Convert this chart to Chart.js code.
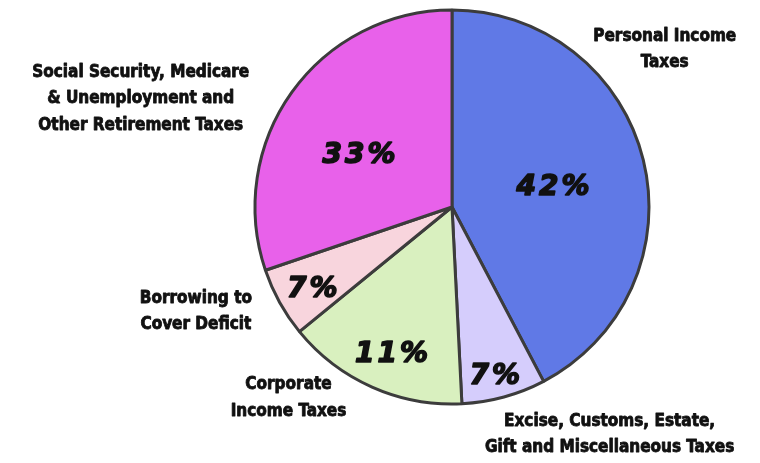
<!DOCTYPE html>
<html>
<head>
<meta charset="utf-8">
<script src="https://cdn.jsdelivr.net/npm/chart.js@4"></script>
<style>
  html, body { margin: 0; padding: 0; background: #ffffff; }
  #wrap { width: 760px; height: 463px; position: relative; }
</style>
</head>
<body>
<div id="wrap"><canvas id="c" width="760" height="463"></canvas></div>
<script>
// Categories (clockwise from 12 o'clock)
const categories = [
  "Personal Income Taxes",
  "Excise, Customs, Estate, Gift and Miscellaneous Taxes",
  "Corporate Income Taxes",
  "Borrowing to Cover Deficit",
  "Social Security, Medicare & Unemployment and Other Retirement Taxes"
];
// Slice sizes as drawn in the picture (share of the circle, %)
const sliceValues = [42.3, 6.9, 14.9, 5.7, 30.2];
// Percent labels printed on the slices
const percentLabels = ["42%", "7%", "11%", "7%", "33%"];
// Outer caption lines
const captionLines = [
  ["Personal Income", "Taxes"],
  ["Excise, Customs, Estate,", "Gift and Miscellaneous Taxes"],
  ["Corporate", "Income Taxes"],
  ["Borrowing to", "Cover Deficit"],
  ["Social Security, Medicare", "& Unemployment and", "Other Retirement Taxes"]
];
const sliceColors = ["#6079E6", "#D5CDFC", "#D9F0BF", "#F8D5DD", "#E861EA"];

// Placement styles: percent label (radius fraction, angle shift deg); caption center (in radii from pie center)
const pctPlace = [[0.52, 1.5], [0.87, 1.2], [0.80, -1], [0.82, -0.5], [0.55, -5.7]];
const capPlace = [[1.08, -0.80], [0.80, 1.155], [-0.83, 0.97], [-1.30, 0.53], [-1.58, -0.55]];

const textPlugin = {
  id: 'pieText',
  afterDraw(chart) {
    const ctx = chart.ctx;
    const arcs = chart.getDatasetMeta(0).data;
    ctx.save();
    ctx.fillStyle = '#111111';
    ctx.strokeStyle = '#111111';
    ctx.lineJoin = 'round';
    ctx.textAlign = 'center';
    ctx.textBaseline = 'middle';
    arcs.forEach((arc, i) => {
      const p = arc.getProps(['x', 'y', 'startAngle', 'endAngle', 'outerRadius'], true);
      const mid = (p.startAngle + p.endAngle) / 2 + pctPlace[i][1] * Math.PI / 180;
      const r = p.outerRadius * pctPlace[i][0];
      ctx.font = 'italic bold 28px "DejaVu Sans"';
      ctx.letterSpacing = '3px';
      ctx.lineWidth = 1.6;
      const px = p.x + Math.cos(mid) * r + 2.5, py = p.y + Math.sin(mid) * r + 3;
      ctx.fillText(percentLabels[i], px, py);
      ctx.strokeText(percentLabels[i], px, py);
      const lines = captionLines[i];
      const cx = p.x + capPlace[i][0] * p.outerRadius;
      const cy = p.y + capPlace[i][1] * p.outerRadius;
      const lh = 26.5;
      ctx.font = 'bold 17px "DejaVu Sans Condensed"';
      ctx.letterSpacing = '0px';
      ctx.lineWidth = 0.8;
      lines.forEach((ln, k) => {
        const y = cy + (k - (lines.length - 1) / 2) * lh;
        ctx.fillText(ln, cx, y);
        ctx.strokeText(ln, cx, y);
      });
    });
    ctx.restore();
  }
};

new Chart(document.getElementById('c'), {
  type: 'pie',
  data: {
    labels: categories,
    datasets: [{
      data: sliceValues,
      backgroundColor: sliceColors,
      borderColor: '#3C3C3C',
      borderWidth: 3
    }]
  },
  options: {
    responsive: false,
    animation: false,
    layout: { padding: { left: 253.5, right: 109.5, top: 8.5, bottom: 57.5 } },
    plugins: { legend: { display: false }, tooltip: { enabled: false } }
  },
  plugins: [textPlugin]
});
</script>
</body>
</html>
